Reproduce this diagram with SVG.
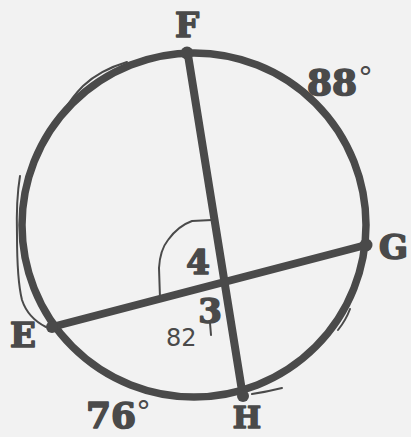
<svg xmlns="http://www.w3.org/2000/svg" width="411" height="437" viewBox="0 0 411 437">
  <style>
    .lbl { font-family: "DejaVu Serif", "Liberation Serif", serif; font-weight: bold; fill: #4a4a4a; stroke: #4a4a4a; stroke-width: 1.6; stroke-linejoin: round; }
    .deg { font-family: "DejaVu Sans", sans-serif; fill: #4a4a4a; }
    .thin { fill: none; stroke: #4a4a4a; stroke-width: 2; stroke-linecap: round; stroke-linejoin: round; }
    .thick { fill: none; stroke: #4a4a4a; stroke-width: 8; stroke-linecap: round; }
    .dot { fill: #4a4a4a; }
  </style>
  <rect width="411" height="437" fill="#f2f2f2"/>
  <g id="circle">
    <circle cx="194" cy="225" r="172" fill="none" stroke="#4a4a4a" stroke-width="7.5"/>
    <path class="thin" d="M127 62 Q100 70 83 86 Q72 97 64 111"/>
    <path class="thin" d="M20 176 Q16 200 17 235 Q17 280 22 300 Q28 318 46 327"/>
    <path class="thin" d="M338 330 Q346 320 350 309"/>
    <path class="thin" d="M252 394 Q266 392 282 388"/>
  </g>
  <g id="connectors">
    <line class="thick" x1="188" y1="55" x2="243" y2="397"/>
    <line class="thick" x1="52" y1="327" x2="366" y2="245"/>
    <path class="thin" d="M160 298 L159 268 Q160 250 168 240 Q178 226 192 221 L212 220"/>
    <line class="thin" x1="210" y1="323" x2="211" y2="335"/>
  </g>
  <g id="F">
    <circle class="dot" cx="187" cy="53" r="6.5"/>
    <text class="lbl" x="187" y="37" font-size="34" text-anchor="middle">F</text>
  </g>
  <g id="G">
    <circle class="dot" cx="366" cy="245" r="6.5"/>
    <text class="lbl" x="379" y="259" font-size="34">G</text>
  </g>
  <g id="E">
    <circle class="dot" cx="52" cy="327" r="6"/>
    <text class="lbl" x="10" y="347" font-size="34">E</text>
  </g>
  <g id="H">
    <circle class="dot" cx="243" cy="396" r="6"/>
    <text class="lbl" x="247" y="428" font-size="30" text-anchor="middle">H</text>
  </g>
  <g id="arc-labels">
    <text class="lbl" x="307" y="95" font-size="36">88</text>
    <text class="deg" x="358" y="88" font-size="30">°</text>
    <text class="lbl" x="86" y="428" font-size="36">76</text>
    <text class="deg" x="136" y="422" font-size="30">°</text>
  </g>
  <g id="angle-labels">
    <text class="lbl" x="198" y="274" font-size="34" text-anchor="middle">4</text>
    <text class="lbl" x="210" y="323" font-size="34" text-anchor="middle">3</text>
    <text x="166" y="346" font-family="DejaVu Sans, sans-serif" font-size="24" fill="#4a4a4a">82</text>
  </g>
</svg>
